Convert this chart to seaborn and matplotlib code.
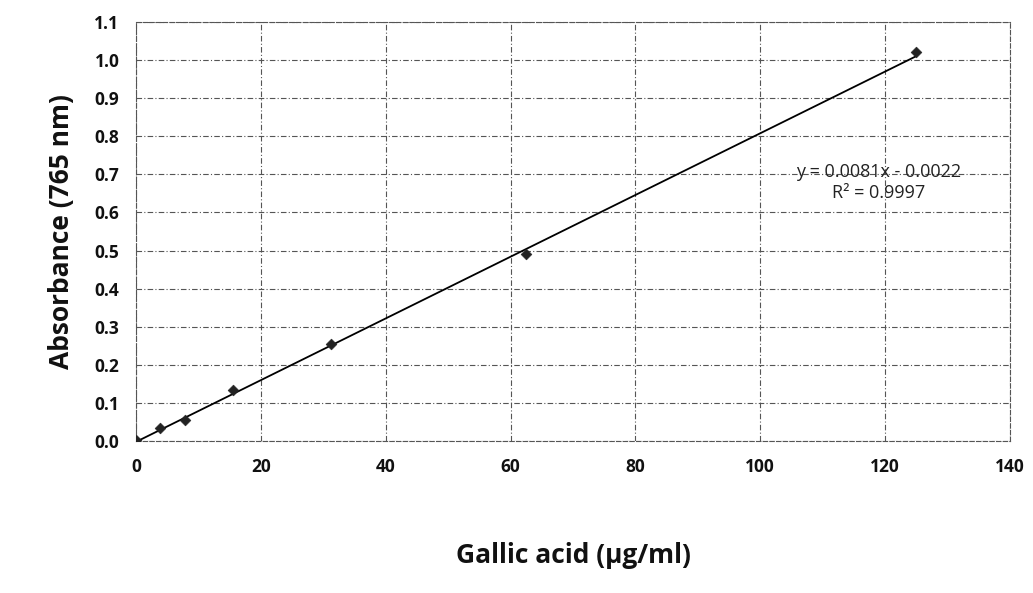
import matplotlib
matplotlib.use("Agg")
import matplotlib.pyplot as plt
import seaborn as sns
import numpy as np
import pandas as pd

# Data
concentration = [0, 3.9, 7.8, 15.6, 31.25, 62.5, 125]
absorbance = [0.002, 0.033, 0.055, 0.135, 0.255, 0.49, 1.02]
slope = 0.0081
intercept = -0.0022
r_squared = 0.9997
x_ticks = [0, 20, 40, 60, 80, 100, 120, 140]
y_ticks = [0.0, 0.1, 0.2, 0.3, 0.4, 0.5, 0.6, 0.7, 0.8, 0.9, 1.0, 1.1]

sns.set_style("white")
plt.rcParams['font.family'] = ['Open Sans', 'DejaVu Sans']

df = pd.DataFrame({"x": concentration, "y": absorbance})
fit_x = [0, 125]
fit_df = pd.DataFrame({"x": fit_x, "y": [slope * v + intercept for v in fit_x]})

fig = plt.figure(figsize=(10.33, 5.93), dpi=100)
ax = fig.add_axes([0.1317, 0.2563, 0.8460, 0.7067])

sns.lineplot(data=fit_df, x="x", y="y", ax=ax, color="black", linewidth=1.3)
sns.scatterplot(data=df, x="x", y="y", ax=ax, marker="D", s=30, color="#222222",
                edgecolor="#222222", zorder=5)

ax.set_xlim(0, 140)
ax.set_ylim(0, 1.1)
ax.set_xticks(x_ticks)
ax.set_yticks(y_ticks)
ax.set_xticklabels([str(t) for t in x_ticks], fontsize=12.5, fontweight="bold", color="#111111")
ax.set_yticklabels([f"{t:.1f}" for t in y_ticks], fontsize=12.5, fontweight="bold", color="#111111")
ax.tick_params(axis="both", length=0)
ax.tick_params(axis="y", pad=12)
ax.tick_params(axis="x", pad=12)
ax.grid(True, color="#555555", linestyle=(0, (5, 2, 1, 2)), linewidth=0.8)
for s in ax.spines.values():
    s.set_visible(True)
    s.set_color("#555555")
    s.set_linestyle((0, (4, 2)))
    s.set_linewidth(0.8)

ax.set_xlabel("Gallic acid (µg/ml)", fontsize=19, fontweight="bold", labelpad=48, color="#111111")
ax.set_ylabel("Absorbance (765 nm)", fontsize=19, fontweight="bold", labelpad=14, color="#111111")

ax.text(119, 0.707, f"y = {slope:.4f}x - {abs(intercept):.4f}", ha="center", va="center",
        fontsize=13, color="#222222")
ax.text(119, 0.652, f"R² = {r_squared:.4f}", ha="center", va="center",
        fontsize=13, color="#222222")

fig.savefig("out.png", dpi=100)
